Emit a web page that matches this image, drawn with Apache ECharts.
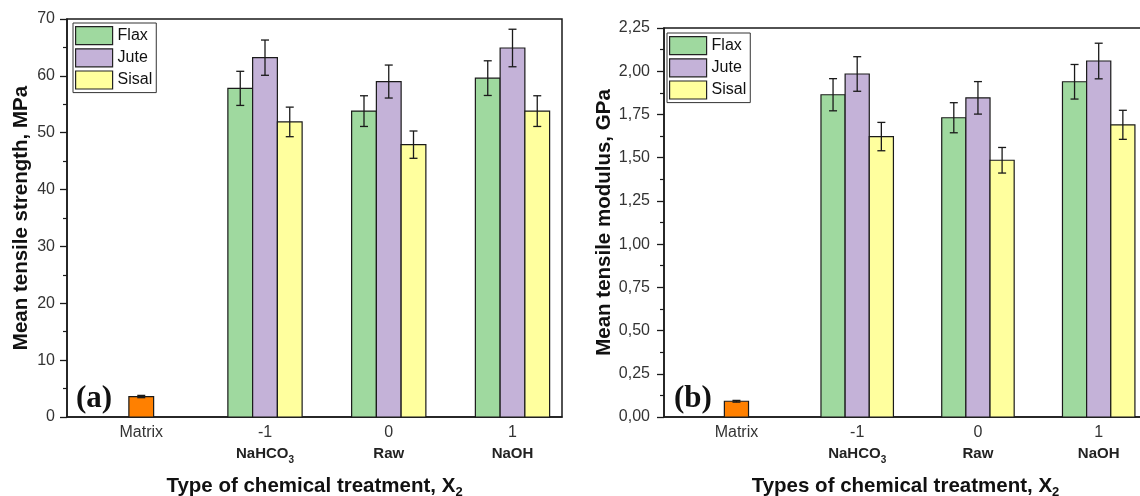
<!DOCTYPE html>
<html>
<head>
<meta charset="utf-8">
<script src="https://cdn.jsdelivr.net/npm/echarts@6/dist/echarts.min.js"></script>
<style>
  html, body { margin: 0; padding: 0; background: #fff; }
  #chart { width: 1140px; height: 496px; }
</style>
</head>
<body>
<div id="chart"></div>
<script>
// Treatment groups (coded level, chemical name, subscript)
const groupCodes = ['Matrix', '-1', '0', '1'];
const groupNames = ['', 'NaHCO', 'Raw', 'NaOH'];
const groupSubs = ['', '3', '', ''];
const fibers = ['Flax', 'Jute', 'Sisal'];

// Mean tensile strength, MPa, for NaHCO3 / Raw / NaOH
const strengthFlax = [57.8, 53.8, 59.6];
const strengthJute = [63.2, 59.0, 64.9];
const strengthSisal = [51.9, 47.9, 53.8];
const strengthFlaxErr = [3.0, 2.7, 3.05];
const strengthJuteErr = [3.1, 2.9, 3.3];
const strengthSisalErr = [2.6, 2.4, 2.7];
const strengthMatrix = 3.6;
const strengthMatrixErr = 0.2;

// Mean tensile modulus, GPa, for NaHCO3 / Raw / NaOH
const modulusFlax = [1.864, 1.731, 1.939];
const modulusJute = [1.984, 1.846, 2.059];
const modulusSisal = [1.622, 1.485, 1.690];
const modulusFlaxErr = [0.093, 0.087, 0.10];
const modulusJuteErr = [0.10, 0.094, 0.103];
const modulusSisalErr = [0.082, 0.074, 0.084];
const modulusMatrix = 0.091;
const modulusMatrixErr = 0.005;

// Y-axis tick values
const strengthTicks = { min: 0, max: 70, interval: 10 };
const modulusTicks = { min: 0, max: 2.25, interval: 0.25 };

const colors = { Flax: '#9fd99f', Jute: '#c4b2d8', Sisal: '#ffff9e', Matrix: '#ff8000' };
const BAR_W = 0.2;          // bar width in x-axis units
const groupPos = groupCodes.map((c, i) => i - 2);   // Matrix, -1, 0, 1
const X_MIN = -2.6, X_MAX = 1.4;

const FONT = '"Liberation Sans", Arial, sans-serif';
const SERIF = '"Liberation Serif", "Times New Roman", serif';
const INK = '#1a1a1a';

function renderBar(params, api) {
  const x = api.value(0), y = api.value(1), e = api.value(2);
  const w = api.size([BAR_W, 0])[0];
  const base = api.coord([x, 0]);
  const top = api.coord([x, y]);
  const hi = api.coord([x, y + e]);
  const lo = api.coord([x, y - e]);
  const cap = 4;
  const lineStyle = { stroke: INK, lineWidth: 1.3 };
  return {
    type: 'group',
    children: [
      { type: 'rect', shape: { x: base[0] - w / 2, y: top[1], width: w, height: base[1] - top[1] },
        style: { fill: api.visual('color'), stroke: INK, lineWidth: 1.2 } },
      { type: 'line', shape: { x1: hi[0], y1: hi[1], x2: lo[0], y2: lo[1] }, style: lineStyle },
      { type: 'line', shape: { x1: hi[0] - cap, y1: hi[1], x2: hi[0] + cap, y2: hi[1] }, style: lineStyle },
      { type: 'line', shape: { x1: lo[0] - cap, y1: lo[1], x2: lo[0] + cap, y2: lo[1] }, style: lineStyle }
    ]
  };
}

function fiberSeries(name, idx, values, errs, axisIdx) {
  const offset = (idx - 1) * BAR_W;
  return {
    type: 'custom', name: name, xAxisIndex: axisIdx, yAxisIndex: axisIdx,
    itemStyle: { color: colors[name] },
    renderItem: renderBar,
    encode: { x: 0, y: 1 },
    data: values.map((v, k) => [groupPos[k + 1] + offset, v, errs[k]]),
    z: 3
  };
}

function matrixSeries(value, err, axisIdx) {
  return {
    type: 'custom', name: 'Matrix', xAxisIndex: axisIdx, yAxisIndex: axisIdx,
    itemStyle: { color: colors.Matrix },
    renderItem: renderBar,
    encode: { x: 0, y: 1 },
    data: [[groupPos[0], value, err]],
    z: 3
  };
}

function xAxis(gridIndex, title) {
  return {
    type: 'value', gridIndex: gridIndex, min: X_MIN, max: X_MAX,
    axisLine: { onZero: false, lineStyle: { color: INK, width: 1.5 } },
    axisTick: { show: false },
    splitLine: { show: false },
    axisLabel: {
      customValues: groupPos,
      margin: 6,
      formatter: function (v) {
        const i = groupPos.indexOf(Math.round(v));
        if (i < 0) return '';
        let s = '{a|' + groupCodes[i] + '}';
        if (groupNames[i]) {
          s += '\n{b|' + groupNames[i] + '}';
          if (groupSubs[i]) s += '{s|' + groupSubs[i] + '}';
        }
        return s;
      },
      rich: {
        a: { fontFamily: FONT, fontSize: 16, color: '#333', lineHeight: 20 },
        b: { fontFamily: FONT, fontSize: 15, fontWeight: 'bold', color: '#222', lineHeight: 22 },
        s: { fontFamily: FONT, fontSize: 10, fontWeight: 'bold', color: '#222', lineHeight: 12, verticalAlign: 'bottom' }
      }
    },
    name: '{t|' + title + '}{s|2}',
    nameLocation: 'middle',
    nameGap: 56,
    nameTextStyle: {
      rich: {
        t: { fontFamily: FONT, fontSize: 20.5, fontWeight: 'bold', color: '#111', lineHeight: 26 },
        s: { fontFamily: FONT, fontSize: 13, fontWeight: 'bold', color: '#111', lineHeight: 15, verticalAlign: 'bottom' }
      }
    }
  };
}

function yAxis(gridIndex, ticks, title, gap, fmt, labelMargin) {
  return {
    type: 'value', gridIndex: gridIndex,
    min: ticks.min, max: ticks.max, interval: ticks.interval,
    axisLine: { show: true, onZero: false, lineStyle: { color: INK, width: 1.5 } },
    axisTick: { show: true, length: 7, lineStyle: { color: INK, width: 1.3 } },
    minorTick: { show: true, splitNumber: 2, length: 4, lineStyle: { color: INK, width: 1.2 } },
    splitLine: { show: false },
    axisLabel: { fontFamily: FONT, fontSize: 16, color: '#333', margin: labelMargin, formatter: fmt },
    name: title,
    nameLocation: 'middle',
    nameGap: gap,
    nameTextStyle: { fontFamily: FONT, fontSize: 20.5, fontWeight: 'bold', color: '#111' }
  };
}

function legend(left, top) {
  return {
    orient: 'vertical', left: left, top: top,
    itemWidth: 37, itemHeight: 18, itemGap: 3,
    padding: [3, 4, 3, 2],
    borderColor: '#333', borderWidth: 1,
    selectedMode: false,
    textStyle: { fontFamily: FONT, fontSize: 16, color: '#111' },
    data: fibers.map(f => ({ name: f, icon: 'rect',
      itemStyle: { color: colors[f], borderColor: '#222', borderWidth: 1.2 } }))
  };
}

const chart = echarts.init(document.getElementById('chart'), null, { renderer: 'canvas' });
chart.setOption({
  backgroundColor: '#fff',
  animation: false,
  grid: [
    { left: 67, top: 19, width: 495, height: 398, outerBoundsMode: 'none', containLabel: false,
      show: true, borderColor: INK, borderWidth: 1.5 },
    { left: 664, top: 28, width: 483, height: 389, outerBoundsMode: 'none', containLabel: false,
      show: true, borderColor: INK, borderWidth: 1.5 }
  ],
  legend: [legend(73, 23), legend(667, 33)],
  xAxis: [
    xAxis(0, 'Type of chemical treatment, X'),
    xAxis(1, 'Types of chemical treatment, X')
  ],
  yAxis: [
    yAxis(0, strengthTicks, 'Mean tensile strength, MPa', 35, v => String(v), 12),
    yAxis(1, modulusTicks, 'Mean tensile modulus, GPa', 47, v => v.toFixed(2).replace('.', ','), 14)
  ],
  graphic: [
    { type: 'text', left: 76, top: 383, style: { text: '(a)', fontFamily: SERIF, fontSize: 31, fontWeight: 'bold', fill: '#111' } },
    { type: 'text', left: 674, top: 383, style: { text: '(b)', fontFamily: SERIF, fontSize: 31, fontWeight: 'bold', fill: '#111' } }
  ],
  series: [
    matrixSeries(strengthMatrix, strengthMatrixErr, 0),
    fiberSeries('Flax', 0, strengthFlax, strengthFlaxErr, 0),
    fiberSeries('Jute', 1, strengthJute, strengthJuteErr, 0),
    fiberSeries('Sisal', 2, strengthSisal, strengthSisalErr, 0),
    matrixSeries(modulusMatrix, modulusMatrixErr, 1),
    fiberSeries('Flax', 0, modulusFlax, modulusFlaxErr, 1),
    fiberSeries('Jute', 1, modulusJute, modulusJuteErr, 1),
    fiberSeries('Sisal', 2, modulusSisal, modulusSisalErr, 1)
  ]
});
</script>
</body>
</html>
